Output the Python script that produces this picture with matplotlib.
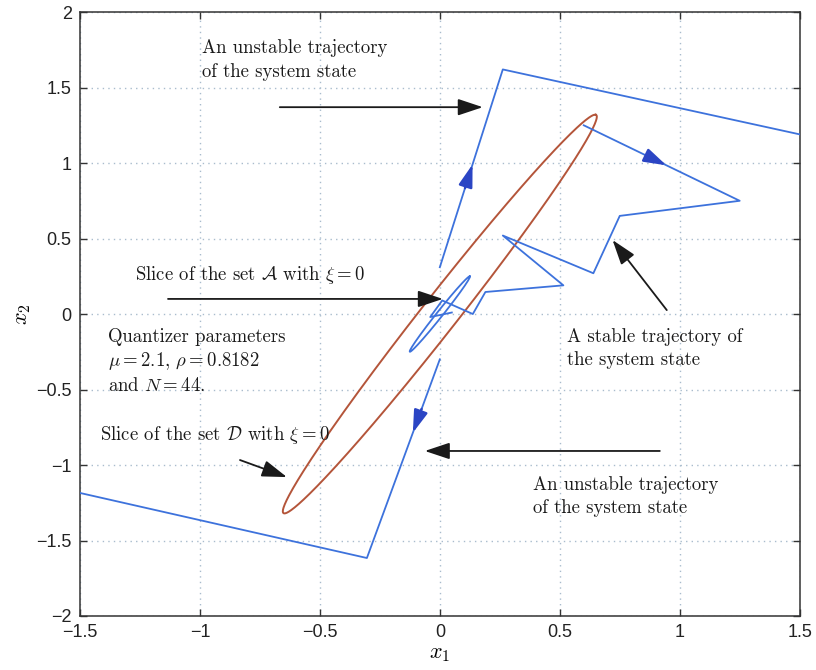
"""Quantizer example: stable and unstable trajectories with the slices of sets A and D."""

import numpy as np
import matplotlib

matplotlib.use("Agg")
import matplotlib.pyplot as plt

# Trajectories (x1, x2).
UP_X = [0.0, 0.2625, 1.5]
UP_Y = [0.31, 1.62, 1.19]
DOWN_X = [0.0, -0.304, -1.5]
DOWN_Y = [-0.30, -1.616, -1.185]
STABLE_X = [0.60, 1.25, 0.75, 0.64, 0.2625, 0.515, 0.19, 0.1375, 0.01, -0.04, 0.05]
STABLE_Y = [1.25, 0.75, 0.65, 0.27, 0.52, 0.19, 0.146, 0.0, 0.09, -0.02, 0.01]

# Ellipse slices: tip of the major axis and minor semi-axis.
D_TIP = (0.65, 1.32)
D_MINOR = 0.085
A_TIP = (0.125, 0.25)
A_MINOR = 0.014

# Direction arrows on the trajectories: (segment start, segment end, fraction of tip).
FLOW_ARROWS = [
    ((UP_X[0], UP_Y[0]), (UP_X[1], UP_Y[1]), 0.52),
    ((DOWN_X[0], DOWN_Y[0]), (DOWN_X[1], DOWN_Y[1]), 0.37),
    ((STABLE_X[0], STABLE_Y[0]), (STABLE_X[1], STABLE_Y[1]), 0.53),
]

XTICKS = [-1.5, -1, -0.5, 0, 0.5, 1, 1.5]
YTICKS = [-2, -1.5, -1, -0.5, 0, 0.5, 1, 1.5, 2]

TRAJ = "#3d72dc"
FLOW = "#2b45c4"
ELLIPSE = "#b4553a"
INK = "#1a1a1a"

plt.rcParams["mathtext.fontset"] = "cm"
TEXTFONT = "cmr10"


def ellipse(tip, minor, n=400):
    tip = np.asarray(tip, dtype=float)
    a = np.hypot(*tip)
    u = tip / a
    v = np.array([-u[1], u[0]])
    t = np.linspace(0, 2 * np.pi, n)
    pts = np.outer(a * np.cos(t), u) + np.outer(minor * np.sin(t), v)
    return pts[:, 0], pts[:, 1]


fig = plt.figure(figsize=(8.16, 6.7), dpi=100)
ax = fig.add_axes([0.098, 0.0806, 0.882, 0.9014])

ax.set_xlim(-1.5, 1.5)
ax.set_ylim(-2, 2)
ax.set_xticks(XTICKS)
ax.set_yticks(YTICKS)
ax.set_xticklabels(["\u22121.5", "\u22121", "\u22120.5", "0", "0.5", "1", "1.5"])
ax.set_yticklabels(["\u22122", "\u22121.5", "\u22121", "\u22120.5", "0", "0.5", "1", "1.5", "2"])
ax.tick_params(direction="in", length=5, width=1, top=True, right=True,
               labelsize=13, colors="#333333", pad=6)
for lab in ax.get_xticklabels() + ax.get_yticklabels():
    lab.set_family("Liberation Sans")
    lab.set_color("#222222")
ax.grid(True, linestyle=(0, (1, 3)), color="#a9bccd", linewidth=1.0)
for s in ax.spines.values():
    s.set_color("#333333")
    s.set_linewidth(1.1)

# Ellipses.
ex, ey = ellipse(D_TIP, D_MINOR)
ax.plot(ex, ey, color=ELLIPSE, lw=1.4, zorder=2)
ax_, ay_ = ellipse(A_TIP, A_MINOR)
ax.plot(ax_, ay_, color=TRAJ, lw=1.3, zorder=3)

# Trajectories.
ax.plot(UP_X, UP_Y, color=TRAJ, lw=1.3, zorder=3)
ax.plot(DOWN_X, DOWN_Y, color=TRAJ, lw=1.3, zorder=3)
ax.plot(STABLE_X, STABLE_Y, color=TRAJ, lw=1.3, zorder=3)

for (x0, y0), (x1, y1), f in FLOW_ARROWS:
    tip = (x0 + f * (x1 - x0), y0 + f * (y1 - y0))
    tail = (x0 + (f - 0.12) * (x1 - x0), y0 + (f - 0.12) * (y1 - y0))
    ax.annotate("", xy=tip, xytext=tail,
                arrowprops=dict(arrowstyle="-|>,head_length=0.9,head_width=0.28",
                                color=FLOW, lw=1.8, shrinkA=0, shrinkB=0,
                                mutation_scale=15),
                zorder=4)

# Annotations.
arrow_kw = dict(arrowstyle="-|>,head_length=0.9,head_width=0.3", color=INK,
                lw=1.3, shrinkA=0, shrinkB=0, mutation_scale=17)
tkw = dict(fontsize=13.5, color=INK, family=TEXTFONT)

ax.text(-0.99, 1.82, "An unstable trajectory\nof the system state",
        ha="left", va="top", linespacing=1.4, **tkw)
ax.annotate("", xy=(0.179, 1.37), xytext=(-0.667, 1.37), arrowprops=arrow_kw)

ax.text(-1.27, 0.26, r"Slice of the set $\mathcal{A}$ with $\xi=0$",
        ha="left", va="center", **tkw)
ax.annotate("", xy=(0.0125, 0.10), xytext=(-1.133, 0.10), arrowprops=arrow_kw)

ax.text(-1.383, -0.09,
        "Quantizer parameters\n" r"$\mu=2.1$, $\rho=0.8182$" "\n" r"and $N=44$.",
        ha="left", va="top", linespacing=1.3, **tkw)

ax.text(-1.417, -0.80, r"Slice of the set $\mathcal{D}$ with $\xi=0$",
        ha="left", va="center", **tkw)
ax.annotate("", xy=(-0.6375, -1.08), xytext=(-0.833, -0.967), arrowprops=arrow_kw)

ax.text(0.529, -0.09, "A stable trajectory of\nthe system state",
        ha="left", va="top", linespacing=1.4, **tkw)
ax.annotate("", xy=(0.72, 0.49), xytext=(0.946, 0.026), arrowprops=arrow_kw)

ax.text(0.3875, -1.07, "An unstable trajectory\nof the system state",
        ha="left", va="top", linespacing=1.4, **tkw)
ax.annotate("", xy=(-0.0625, -0.907), xytext=(0.917, -0.907), arrowprops=arrow_kw)

ax.set_xlabel(r"$x_1$", fontsize=16, labelpad=2)
ax.set_ylabel(r"$x_2$", fontsize=16, labelpad=2)

fig.savefig("out.png", dpi=100)
